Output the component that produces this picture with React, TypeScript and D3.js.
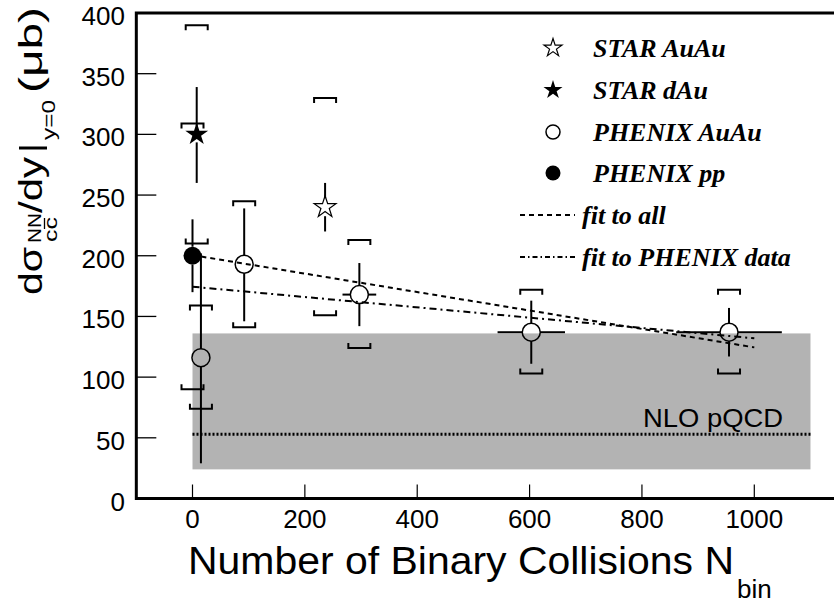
import React from 'react';
import * as d3 from 'd3';

// ---- axis ticks ----
const xTicks = [0, 200, 400, 600, 800, 1000];
const yTicks = [0, 50, 100, 150, 200, 250, 300, 350, 400];

// ---- PHENIX AuAu (open circles) ----
const phenixAuAuX = [15, 92, 297, 603, 955];
const phenixAuAuY = [116, 193, 168, 137, 137];
const phenixAuAuLo = [29, 146, 142, 111, 117];
const phenixAuAuHi = [202, 239, 194, 163, 157];
const phenixAuAuXErr = [0, 0, 30, 60, 94];
const phenixAuAuSysLo = [74, 141, 124, 103, 103];
const phenixAuAuSysHi = [159, 245, 213, 172, 172];

// ---- PHENIX pp (filled circle) ----
const phenixPPX = [0];
const phenixPPY = [200];
const phenixPPLo = [170];
const phenixPPHi = [230];
const phenixPPSysLo = [90];
const phenixPPSysHi = [309];

// ---- STAR dAu (filled star) ----
const starDAuX = [7.5];
const starDAuY = [300];
const starDAuLo = [260];
const starDAuHi = [339];
const starDAuSysLo = [210];
const starDAuSysHi = [390];

// ---- STAR AuAu (open star) ----
const starAuAuX = [236];
const starAuAuY = [240];
const starAuAuLo = [220];
const starAuAuHi = [260];
const starAuAuSysLo = [151];
const starAuAuSysHi = [330];

// ---- fits ----
const fitAllX = [0, 1000];
const fitAllY = [200.5, 124.5];
const fitPhenixX = [0, 1000];
const fitPhenixY = [174.5, 132];

// ---- NLO pQCD band ----
const nloX = [0, 1100];
const nloLo = 24;
const nloHi = 136;
const nloCentral = 53;

const legendLabels = ['STAR AuAu', 'STAR dAu', 'PHENIX AuAu', 'PHENIX pp', 'fit to all', 'fit to PHENIX data'];

const W = 834;
const H = 603;

const x = d3.scaleLinear().domain([0, 1000]).range([192.5, 754.3]);
const y = d3.scaleLinear().domain([0, 400]).range([498.5, 13]);

const sansFont = '"Liberation Sans", Arial, Helvetica, sans-serif';
const serifFont = '"Liberation Serif", "Times New Roman", serif';

type Pt = { x: number; y: number; lo: number; hi: number; xerr: number; sysLo: number; sysHi: number };

function build(xs: number[], ys: number[], lo: number[], hi: number[], sl: number[], sh: number[], xe?: number[]): Pt[] {
  return xs.map((v, i) => ({ x: v, y: ys[i], lo: lo[i], hi: hi[i], xerr: xe ? xe[i] : 0, sysLo: sl[i], sysHi: sh[i] }));
}

const starPath = (R: number) => d3.symbol().type(d3.symbolStar).size((R * R) / 0.8908130915292852)()!;

function ErrorBars({ p, gap }: { p: Pt; gap: number }) {
  const cx = x(p.x);
  const cy = y(p.y);
  const bw = 11;
  const bt = 5;
  const parts: JSX.Element[] = [];
  if (y(p.hi) < cy - gap) parts.push(<line key="vu" x1={cx} x2={cx} y1={y(p.hi)} y2={cy - gap} />);
  if (y(p.lo) > cy + gap) parts.push(<line key="vd" x1={cx} x2={cx} y1={cy + gap} y2={y(p.lo)} />);
  if (p.xerr > 0) {
    parts.push(<line key="hl" x1={x(p.x - p.xerr)} x2={cx - gap} y1={cy} y2={cy} />);
    parts.push(<line key="hr" x1={cx + gap} x2={x(p.x + p.xerr)} y1={cy} y2={cy} />);
  }
  const yh = y(p.sysHi);
  const yl = y(p.sysLo);
  parts.push(<path key="bh" fill="none" d={`M${cx - bw},${yh + bt}V${yh}H${cx + bw}V${yh + bt}`} />);
  parts.push(<path key="bl" fill="none" d={`M${cx - bw},${yl - bt}V${yl}H${cx + bw}V${yl - bt}`} />);
  return <g stroke="#000" strokeWidth={2}>{parts}</g>;
}

export default function App() {
  const phenixAuAu = build(phenixAuAuX, phenixAuAuY, phenixAuAuLo, phenixAuAuHi, phenixAuAuSysLo, phenixAuAuSysHi, phenixAuAuXErr);
  const phenixPP = build(phenixPPX, phenixPPY, phenixPPLo, phenixPPHi, phenixPPSysLo, phenixPPSysHi);
  const starDAu = build(starDAuX, starDAuY, starDAuLo, starDAuHi, starDAuSysLo, starDAuSysHi);
  const starAuAu = build(starAuAuX, starAuAuY, starAuAuLo, starAuAuHi, starAuAuSysLo, starAuAuSysHi);

  const fitLine = (xs: number[], ys: number[]) =>
    d3.line<[number, number]>().x((d) => x(d[0])).y((d) => y(d[1]))(xs.map((v, i) => [v, ys[i]] as [number, number]))!;

  const left = x(-100);
  const right = x(1250);
  const top = y(400);
  const bottom = y(0);

  const legX = 553;
  const legRows = [48, 90, 132, 173, 215, 257];

  return (
    <svg width={W} height={H} style={{ position: 'absolute', left: 0, top: 0, background: '#fff' }}>
      <rect x={0} y={0} width={W} height={H} fill="#fff" />
      {/* NLO band */}
      <rect x={x(nloX[0])} width={x(nloX[1]) - x(nloX[0])} y={y(nloHi)} height={y(nloLo) - y(nloHi)} fill="#b3b3b3" />
      <line x1={x(nloX[0])} x2={x(nloX[1])} y1={y(nloCentral)} y2={y(nloCentral)} stroke="#000" strokeWidth={3} strokeDasharray="2,2" />
      <text x={643} y={427} fontFamily={sansFont} fontSize={26} textLength={140} lengthAdjust="spacingAndGlyphs">NLO pQCD</text>

      {/* fits */}
      <path d={fitLine(fitAllX, fitAllY)} fill="none" stroke="#000" strokeWidth={2} strokeDasharray="5,4" />
      <path d={fitLine(fitPhenixX, fitPhenixY)} fill="none" stroke="#000" strokeWidth={2} strokeDasharray="7,4,2,4" />

      {/* axes frame */}
      <path d={`M${right},${top}H${left}V${bottom}H${right}`} fill="none" stroke="#000" strokeWidth={3} />
      {yTicks.map((t) => (
        <line key={'yt' + t} x1={left} x2={left + 20} y1={y(t)} y2={y(t)} stroke="#000" strokeWidth={1.3} />
      ))}
      {xTicks.map((t) => (
        <line key={'xt' + t} x1={x(t)} x2={x(t)} y1={bottom} y2={bottom - 14} stroke="#000" strokeWidth={1.2} />
      ))}
      {yTicks.map((t) => (
        <text key={'yl' + t} x={125} y={y(t) + 12} textAnchor="end" fontFamily={sansFont} fontSize={26}>{t}</text>
      ))}
      {xTicks.map((t) => (
        <text key={'xl' + t} x={x(t)} y={528} textAnchor="middle" fontFamily={sansFont} fontSize={26}>{t}</text>
      ))}

      {/* x title */}
      <text x={188} y={574} fontFamily={sansFont} fontSize={39} textLength={546} lengthAdjust="spacingAndGlyphs">Number of Binary Collisions N</text>
      <text x={737} y={598} fontFamily={sansFont} fontSize={26}>bin</text>

      {/* y title */}
      <g transform="translate(42,295) rotate(-90)" fontFamily={sansFont}>
        <text x={0} y={0} fontSize={33} textLength={48} lengthAdjust="spacingAndGlyphs">dσ</text>
        <text x={52} y={-1} fontSize={18} textLength={30} lengthAdjust="spacingAndGlyphs">NN</text>
        <text x={53} y={15} fontSize={18} textLength={25} lengthAdjust="spacingAndGlyphs">cc</text>
        <line x1={66} x2={77} y1={2.5} y2={2.5} stroke="#000" strokeWidth={1.3} />
        <text x={82} y={0} fontSize={33} textLength={56} lengthAdjust="spacingAndGlyphs">/dy</text>
        <line x1={147} x2={147} y1={-23} y2={5} stroke="#000" strokeWidth={3} />
        <text x={155} y={13} fontSize={18} textLength={40} lengthAdjust="spacingAndGlyphs">y=0</text>
        <text x={202} y={0} fontSize={33} textLength={86} lengthAdjust="spacingAndGlyphs">(μb)</text>
      </g>

      {/* data */}
      {phenixPP.map((p, i) => (
        <g key={'pp' + i}>
          <ErrorBars p={p} gap={9} />
          <circle cx={x(p.x)} cy={y(p.y)} r={9} fill="#000" />
        </g>
      ))}
      {starDAu.map((p, i) => (
        <g key={'sd' + i}>
          <ErrorBars p={p} gap={8} />
          <path d={starPath(12)} transform={`translate(${x(p.x)},${y(p.y)})`} fill="#000" />
        </g>
      ))}
      {starAuAu.map((p, i) => (
        <g key={'sa' + i}>
          <ErrorBars p={p} gap={9} />
          <path d={starPath(11.5)} transform={`translate(${x(p.x)},${y(p.y)})`} fill="none" stroke="#000" strokeWidth={1.2} />
        </g>
      ))}
      {phenixAuAu.map((p, i) => (
        <g key={'pa' + i}>
          <ErrorBars p={p} gap={9} />
          <circle cx={x(p.x)} cy={y(p.y)} r={9} fill="none" stroke="#000" strokeWidth={1.5} />
        </g>
      ))}

      {/* legend */}
      <path d={starPath(9.5)} transform={`translate(${legX},${legRows[0]})`} fill="none" stroke="#000" strokeWidth={1.2} />
      <path d={starPath(10)} transform={`translate(${legX},${legRows[1]})`} fill="#000" />
      <circle cx={legX} cy={legRows[2]} r={7} fill="none" stroke="#000" strokeWidth={1.5} />
      <circle cx={legX} cy={legRows[3]} r={7.5} fill="#000" />
      <line x1={520} x2={575} y1={legRows[4]} y2={legRows[4]} stroke="#000" strokeWidth={2} strokeDasharray="5,4" />
      <line x1={520} x2={575} y1={legRows[5]} y2={legRows[5]} stroke="#000" strokeWidth={2} strokeDasharray="5,3,1.5,3" />
      {legendLabels.map((l, i) => (
        <text key={l} x={i < 4 ? 593 : 582} y={legRows[i] + 9} fontFamily={serifFont} fontWeight="bold" fontStyle="italic" fontSize={26}>{l}</text>
      ))}
    </svg>
  );
}
